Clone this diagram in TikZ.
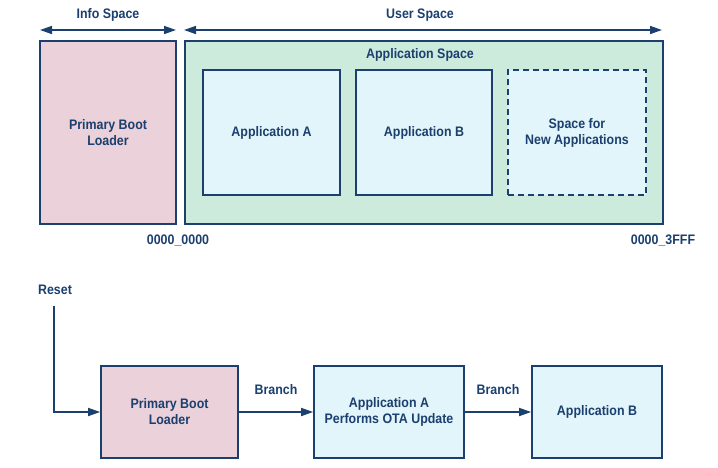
\documentclass[tikz,border=0pt]{standalone}
\usepackage{fontspec}
\setmainfont{Liberation Sans}[FakeStretch=0.9]
\usetikzlibrary{arrows.meta}
\definecolor{adiblue}{HTML}{1B3F6E}
\definecolor{pinkfill}{HTML}{EAD1DA}
\definecolor{greenfill}{HTML}{CDEBDC}
\definecolor{cyanfill}{HTML}{E2F5FA}
\tikzset{
  lbl/.style={text=adiblue, font=\fontsize{13.8}{16}\selectfont\bfseries, align=center, inner sep=0pt},
  boxbase/.style={draw=adiblue, line width=1.7pt, lbl, inner sep=0pt},
  pinkbox/.style={boxbase, fill=pinkfill},
  greenbox/.style={boxbase, fill=greenfill},
  cyanbox/.style={boxbase, fill=cyanfill},
  dashbox/.style={boxbase, fill=cyanfill, dash pattern=on 6pt off 4pt},
  conn/.style={draw=adiblue, line width=1.6pt, -{Triangle[length=12pt,width=8pt]}},
  dconn/.style={draw=adiblue, line width=1.6pt, {Triangle[length=12pt,width=8pt]}-{Triangle[length=12pt,width=8pt]}},
}
\begin{document}
\begin{tikzpicture}[x=1pt,y=-1pt]
\useasboundingbox (0,0) rectangle (718,467);
% top memory map
\node[pinkbox, minimum width=136pt, minimum height=183pt] (pbl1) at (108,132.5) {Primary Boot\\Loader};
\node[greenbox, minimum width=478pt, minimum height=183pt] (appspace) at (424,132.5) {};
\node[lbl] (appspacelbl) at (420,55) {Application Space};
\node[cyanbox, minimum width=137pt, minimum height=125pt] (appA) at (271.5,132.5) {Application A};
\node[cyanbox, minimum width=136pt, minimum height=125pt] (appB) at (424,132.5) {Application B};
\node[dashbox, minimum width=138pt, minimum height=125pt] (newsp) at (577,132.5) {Space for\\New Applications};
\coordinate (infoL) at (40,30);
\coordinate (infoR) at (176,30);
\coordinate (userL) at (184,30);
\coordinate (userR) at (662,30);
\draw[dconn] (infoL) -- (infoR);
\draw[dconn] (userL) -- (userR);
\node[lbl] (infolbl) at (108,15) {Info Space};
\node[lbl] (userlbl) at (420,15) {User Space};
\node[lbl] (addr0) at (178,241) {0000\_0000};
\node[lbl] (addr1) at (663,241) {0000\_3FFF};
% bottom flow
\node[lbl] (reset) at (55,290) {Reset};
\node[pinkbox, minimum width=137pt, minimum height=92pt] (pbl2) at (169.5,412) {Primary Boot\\Loader};
\node[cyanbox, minimum width=150pt, minimum height=92pt] (ota) at (389,412) {Application A\\Performs OTA Update};
\node[cyanbox, minimum width=130pt, minimum height=92pt] (appB2) at (597,412) {Application B};
\coordinate (resetstart) at (54,306);
\draw[conn] (resetstart) |- (pbl2.west);
\draw[conn] (pbl2.east) -- node[lbl, midway, yshift=22pt] {Branch} (ota.west);
\draw[conn] (ota.east) -- node[lbl, midway, yshift=22pt] {Branch} (appB2.west);
\end{tikzpicture}
\end{document}
